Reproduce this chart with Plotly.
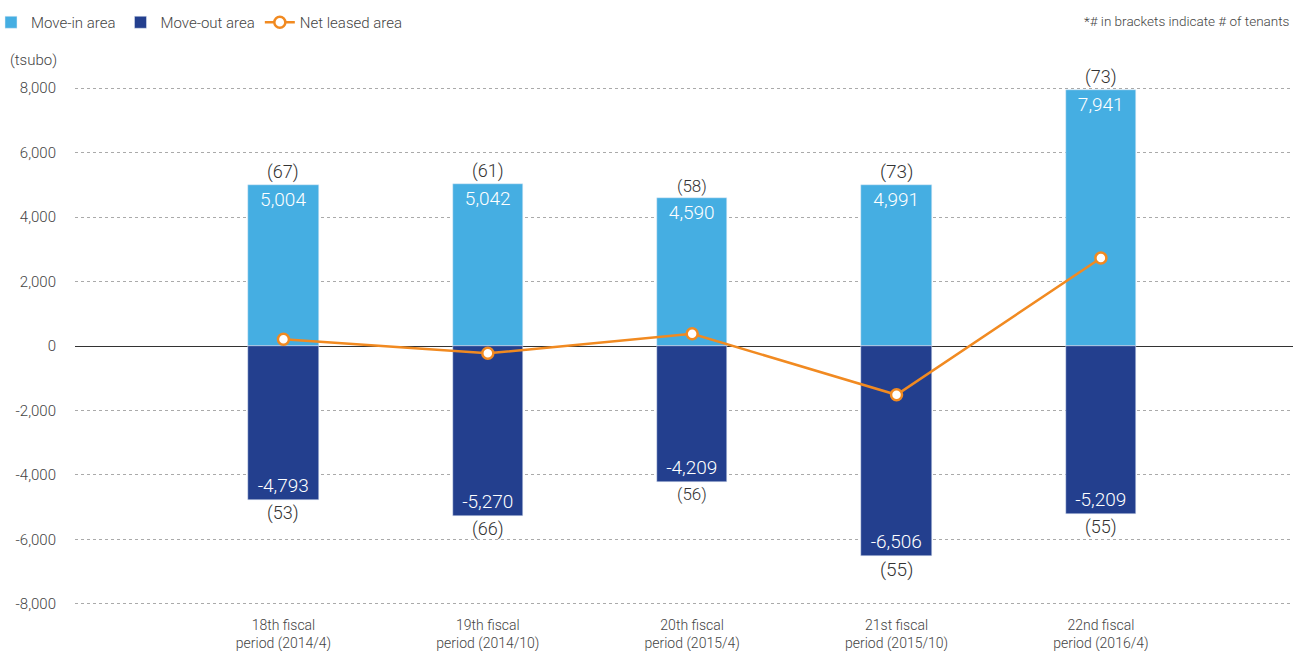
import plotly.graph_objects as go

# Leasing activity per fiscal period (tsubo)
periods = [
    "18th fiscal<br>period (2014/4)",
    "19th fiscal<br>period (2014/10)",
    "20th fiscal<br>period (2015/4)",
    "21st fiscal<br>period (2015/10)",
    "22nd fiscal<br>period (2016/4)",
]
move_in = [5004, 5042, 4590, 4991, 7941]
move_out = [-4793, -5270, -4209, -6506, -5209]
tenants_in = [67, 61, 58, 73, 73]
tenants_out = [53, 66, 56, 55, 55]
net_leased = [a + b for a, b in zip(move_in, move_out)]

C_IN = "#45aee2"
C_OUT = "#233f8e"
C_NET = "#f18a21"
TXT = "#444444"
FONT = "Roboto, Liberation Sans, sans-serif"

xs = list(range(len(periods)))
bar_w = 0.343

W, H = 1293, 651
ML, MR, MT, MB = 75, 0, 85, 44
PW, PH = W - ML - MR, H - MT - MB


def px_x(p):
    return (p - ML) / PW


def px_y(p):
    return 1 - (p - MT) / PH


fig = go.Figure()
fig.add_trace(go.Bar(
    x=xs, y=move_in, name="Move-in area", marker_color=C_IN, width=bar_w,
    text=[f"{v:,}" for v in move_in], textposition="inside",
    insidetextanchor="end", textangle=0,
    textfont=dict(color="white", size=19, family=FONT, weight=300),
))
fig.add_trace(go.Bar(
    x=xs, y=move_out, name="Move-out area", marker_color=C_OUT, width=bar_w,
    text=[f"{v:,}" for v in move_out], textposition="inside",
    insidetextanchor="end", textangle=0,
    textfont=dict(color="white", size=19, family=FONT, weight=300),
))
fig.add_trace(go.Scatter(
    x=xs, y=net_leased, name="Net leased area", mode="lines+markers",
    line=dict(color=C_NET, width=2.5),
    marker=dict(size=11, color="white", line=dict(color=C_NET, width=2.5)),
))

sizes = [18, 18, 17, 19, 18]
annotations = []
for i in xs:
    annotations.append(dict(
        x=i, y=move_in[i], xref="x", yref="y", text=f"({tenants_in[i]})",
        showarrow=False, yanchor="bottom", yshift=0,
        font=dict(size=sizes[i], color="#333333", family=FONT, weight=300),
    ))
    annotations.append(dict(
        x=i, y=move_out[i], xref="x", yref="y", text=f"({tenants_out[i]})",
        showarrow=False, yanchor="top", yshift=0,
        font=dict(size=sizes[i], color="#333333", family=FONT, weight=300),
    ))
annotations.append(dict(
    x=px_x(8), y=px_y(60), xref="paper", yref="paper", text="(tsubo)",
    showarrow=False, xanchor="left", yanchor="middle",
    font=dict(size=15, color=TXT, family=FONT, weight=300),
))
annotations.append(dict(
    x=px_x(1292), y=px_y(21), xref="paper", yref="paper",
    text="*# in brackets indicate # of tenants", showarrow=False,
    xanchor="right", yanchor="middle",
    font=dict(size=13.5, color=TXT, family=FONT, weight=300),
))

fig.update_layout(
    width=W, height=H,
    margin=dict(l=ML, r=MR, t=MT, b=MB, autoexpand=False),
    paper_bgcolor="white", plot_bgcolor="white",
    barmode="relative", bargap=0,
    font=dict(family=FONT, color=TXT, size=14),
    showlegend=True,
    legend=dict(
        orientation="h", x=px_x(-9), y=px_y(6),
        xanchor="left", yanchor="top",
        font=dict(size=15, color=TXT, family=FONT, weight=300),
        itemwidth=30, traceorder="normal", tracegroupgap=0,
    ),
    annotations=annotations,
    xaxis=dict(
        range=[-1.02, 4.94], tickmode="array", tickvals=xs, ticktext=periods,
        showgrid=False, zeroline=False, showline=False, ticks="",
        ticklabelstandoff=8, automargin=False,
        tickfont=dict(size=14, color=TXT, weight=300), fixedrange=True,
    ),
    yaxis=dict(
        range=[-8100, 8100], tickmode="array",
        tickvals=list(range(-8000, 8001, 2000)),
        ticktext=[f"{v:,}" for v in range(-8000, 8001, 2000)],
        showgrid=True, gridcolor="#aaaaaa", griddash="dot", gridwidth=1,
        zeroline=True, zerolinecolor="#333333", zerolinewidth=1.3,
        showline=False, ticks="", ticklabelstandoff=18, automargin=False,
        tickfont=dict(size=15, color=TXT, weight=300),
    ),
)

fig.write_html("out.html")
